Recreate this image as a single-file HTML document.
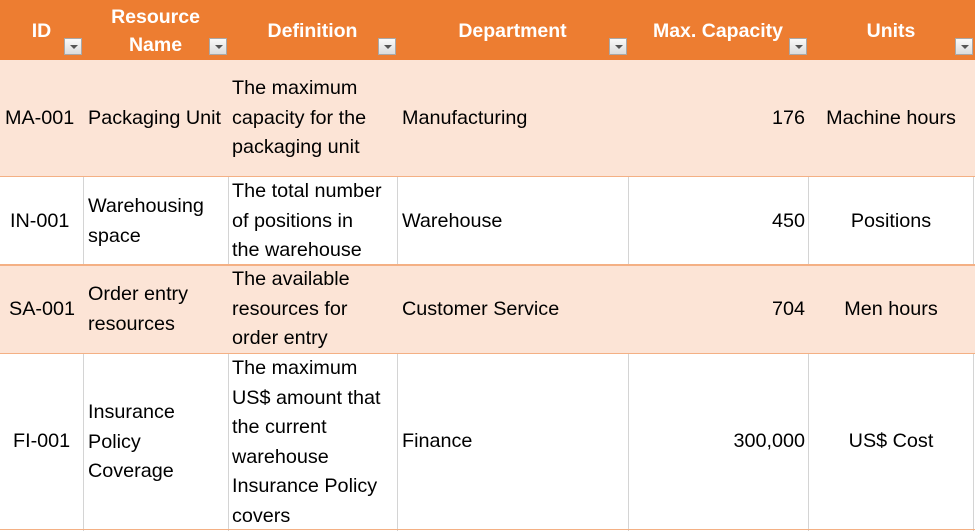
<!DOCTYPE html>
<html><head><style>
body{margin:0;width:975px;height:531px;overflow:hidden;background:#fff;font-family:"Liberation Sans",sans-serif;}
.a{position:absolute;box-sizing:border-box;}
.t{position:absolute;font-size:19.8px;color:#000;line-height:29.5px;white-space:nowrap;}
.h{position:absolute;font-size:19.5px;color:#fff;font-weight:bold;line-height:28px;text-align:center;white-space:nowrap;}
.f{position:absolute;width:18px;height:17px;background:linear-gradient(#fafafa,#dcdcdc);border:1px solid #a8a8a8;box-sizing:border-box;}
.f:after{content:"";position:absolute;left:5px;top:6px;border-left:4px solid transparent;border-right:4px solid transparent;border-top:4px solid #555;}
</style></head><body>
<div class="a" style="left:0;top:0;width:975px;height:60px;background:#ED7D31"></div>
<div class="a" style="left:0;top:60px;width:975px;height:117px;background:#FCE4D6"></div>
<div class="a" style="left:0;top:265px;width:975px;height:88px;background:#FCE4D6"></div>
<div class="a" style="left:83px;top:177px;width:1px;height:88px;background:#d4d4d4"></div>
<div class="a" style="left:228px;top:177px;width:1px;height:88px;background:#d4d4d4"></div>
<div class="a" style="left:397px;top:177px;width:1px;height:88px;background:#d4d4d4"></div>
<div class="a" style="left:628px;top:177px;width:1px;height:88px;background:#d4d4d4"></div>
<div class="a" style="left:808px;top:177px;width:1px;height:88px;background:#d4d4d4"></div>
<div class="a" style="left:973px;top:177px;width:1px;height:88px;background:#d4d4d4"></div>
<div class="a" style="left:83px;top:353px;width:1px;height:178px;background:#d4d4d4"></div>
<div class="a" style="left:228px;top:353px;width:1px;height:178px;background:#d4d4d4"></div>
<div class="a" style="left:397px;top:353px;width:1px;height:178px;background:#d4d4d4"></div>
<div class="a" style="left:628px;top:353px;width:1px;height:178px;background:#d4d4d4"></div>
<div class="a" style="left:808px;top:353px;width:1px;height:178px;background:#d4d4d4"></div>
<div class="a" style="left:973px;top:353px;width:1px;height:178px;background:#d4d4d4"></div>
<div class="a" style="left:0;top:176px;width:975px;height:1px;background:#F4B084"></div>
<div class="a" style="left:0;top:264px;width:975px;height:2px;background:#F4B084"></div>
<div class="a" style="left:0;top:353px;width:975px;height:1px;background:#F4B084"></div>
<div class="a" style="left:0;top:529px;width:975px;height:1px;background:#F4B084"></div>
<div class="h" style="left:0;width:83px;top:17px">ID</div>
<div class="h" style="left:83px;width:145px;top:3px">Resource<br>Name</div>
<div class="h" style="left:228px;width:169px;top:17px">Definition</div>
<div class="h" style="left:397px;width:231px;top:17px">Department</div>
<div class="h" style="left:628px;width:180px;top:17px">Max. Capacity</div>
<div class="h" style="left:808px;width:166px;top:17px">Units</div>
<div class="f" style="left:64px;top:38px"></div>
<div class="f" style="left:209px;top:38px"></div>
<div class="f" style="left:378px;top:38px"></div>
<div class="f" style="left:609px;top:38px"></div>
<div class="f" style="left:789px;top:38px"></div>
<div class="f" style="left:955px;top:38px"></div>
<div class="t" style="left:5px;top:104px">MA-001</div>
<div class="t" style="left:88px;top:104px">Packaging Unit</div>
<div class="t" style="left:232px;top:74px">The maximum<br>capacity for the<br>packaging unit</div>
<div class="t" style="left:402px;top:104px">Manufacturing</div>
<div class="t" style="left:628px;width:177px;text-align:right;top:104px">176</div>
<div class="t" style="left:808px;width:166px;text-align:center;top:104px">Machine hours</div>
<div class="t" style="left:10px;top:207px">IN-001</div>
<div class="t" style="left:88px;top:192px">Warehousing<br>space</div>
<div class="t" style="left:232px;top:177px">The total number<br>of positions in<br>the warehouse</div>
<div class="t" style="left:402px;top:207px">Warehouse</div>
<div class="t" style="left:628px;width:177px;text-align:right;top:207px">450</div>
<div class="t" style="left:808px;width:166px;text-align:center;top:207px">Positions</div>
<div class="t" style="left:9px;top:295px">SA-001</div>
<div class="t" style="left:88px;top:280px">Order entry<br>resources</div>
<div class="t" style="left:232px;top:265px">The available<br>resources for<br>order entry</div>
<div class="t" style="left:402px;top:295px">Customer Service</div>
<div class="t" style="left:628px;width:177px;text-align:right;top:295px">704</div>
<div class="t" style="left:808px;width:166px;text-align:center;top:295px">Men hours</div>
<div class="t" style="left:13px;top:427px">FI-001</div>
<div class="t" style="left:88px;top:398px">Insurance<br>Policy<br>Coverage</div>
<div class="t" style="left:232px;top:354px">The maximum<br>US$ amount that<br>the current<br>warehouse<br>Insurance Policy<br>covers</div>
<div class="t" style="left:402px;top:427px">Finance</div>
<div class="t" style="left:628px;width:177px;text-align:right;top:427px">300,000</div>
<div class="t" style="left:808px;width:166px;text-align:center;top:427px">US$ Cost</div>
</body></html>
